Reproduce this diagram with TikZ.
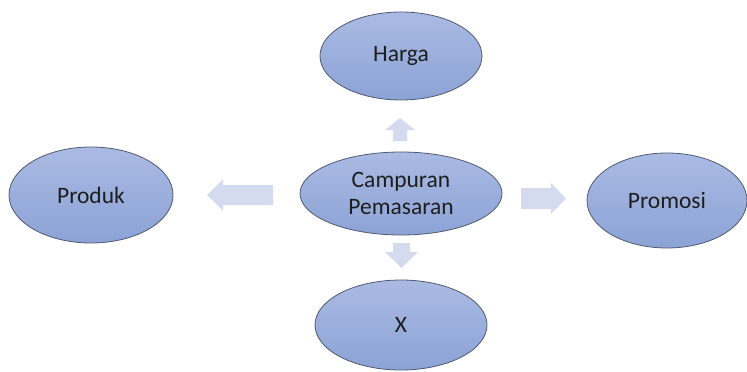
\documentclass[tikz,border=0pt]{standalone}
\usepackage{fontspec}
\setmainfont{Carlito}
\usetikzlibrary{shapes.geometric}
\definecolor{elltop}{HTML}{AABAE3}
\definecolor{ellbot}{HTML}{8CA3D6}
\definecolor{ellline}{HTML}{4F5A70}
\definecolor{arrfill}{HTML}{D4DBEF}
\definecolor{txt}{HTML}{1E1E1E}
\tikzset{
  oval/.style={ellipse, draw=ellline, line width=0.8pt, top color=elltop, bottom color=ellbot,
    inner sep=0pt, text=txt, font=\fontsize{23.5}{27}\selectfont, align=center},
  blockarrow/.style={fill=arrfill, draw=none}
}
\begin{document}
\begin{tikzpicture}[x=1pt,y=-1pt]
\useasboundingbox (0,0) rectangle (747,372);
\node[oval, minimum width=162pt, minimum height=88pt] (harga) at (401,56) {Harga};
\node[oval, minimum width=202pt, minimum height=83pt] (mix) at (401,193.5) {Campuran\\Pemasaran};
\node[oval, minimum width=164pt, minimum height=96pt] (produk) at (91,195) {Produk};
\node[oval, minimum width=160pt, minimum height=95pt] (promosi) at (667,200.5) {Promosi};
\node[oval, minimum width=172pt, minimum height=90pt] (x) at (401,325) {X};
% block arrows
\fill[blockarrow] (400,118) -- (415,130) -- (407,130) -- (407,141) -- (393,141) -- (393,130) -- (385,130) -- cycle;
\fill[blockarrow] (393,243) -- (410,243) -- (410,252) -- (418,252) -- (401.5,268) -- (385,252) -- (393,252) -- cycle;
\fill[blockarrow] (207,195) -- (223,179) -- (223,185) -- (273,185) -- (273,205) -- (223,205) -- (223,211) -- cycle;
\fill[blockarrow] (521,188) -- (551,188) -- (551,183) -- (566,198.5) -- (551,214) -- (551,209) -- (521,209) -- cycle;
\end{tikzpicture}
\end{document}
